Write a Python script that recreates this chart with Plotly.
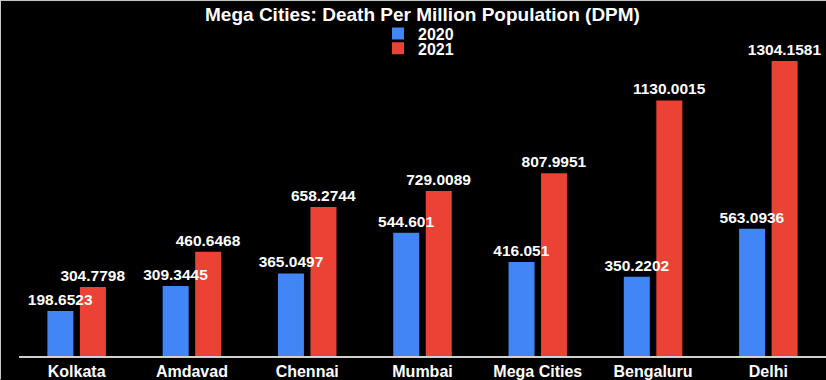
import plotly.graph_objects as go

cities = ["Kolkata", "Amdavad", "Chennai", "Mumbai", "Mega Cities", "Bengaluru", "Delhi"]
dpm_2020 = [198.6523, 309.3445, 365.0497, 544.601, 416.051, 350.2202, 563.0936]
dpm_2021 = [304.7798, 460.6468, 658.2744, 729.0089, 807.9951, 1130.0015, 1304.1581]

FONT = "Liberation Sans, Arial, Helvetica, sans-serif"
W, H = 826, 380
ML, MR, MT, MB = 19, 0, 20, 23.5
PW, PH = W - ML - MR, H - MT - MB
PX_PER_UNIT = 0.2265


def px_to_paper_x(px):
    return (px - ML) / PW


def px_to_paper_y(py):
    return (H - MB - py) / PH


txtfont = dict(color="white", size=15.5, family=FONT, weight="bold")

fig = go.Figure()
fig.add_trace(go.Bar(
    name="2020", x=cities, y=dpm_2020, marker=dict(color="#4285F4", line=dict(width=0)),
    offsetgroup="a", legend="legend",
))
fig.add_trace(go.Bar(
    name="2021", x=cities, y=dpm_2021, marker=dict(color="#EA4335", line=dict(width=0)),
    text=[str(v) for v in dpm_2021], textposition="outside", cliponaxis=False,
    constraintext="none", offsetgroup="b", legend="legend2", textfont=txtfont,
))
# 2020 value labels drawn on top of the 2021 bars
fig.add_trace(go.Bar(
    name="2020 labels", x=cities, y=dpm_2020,
    marker=dict(color="rgba(0,0,0,0)", line=dict(width=0)),
    text=[str(v) for v in dpm_2020], textposition="outside", cliponaxis=False,
    constraintext="none", offsetgroup="a", showlegend=False, hoverinfo="skip",
    textfont=txtfont,
))

leg_common = dict(xanchor="left", yanchor="middle",
                  bgcolor="rgba(0,0,0,0)", borderwidth=0,
                  font=dict(size=16, color="white", family=FONT, weight="bold"))

border = dict(color="#c8c8c8", width=1)

fig.update_layout(
    template="none",
    width=W, height=H,
    paper_bgcolor="black", plot_bgcolor="black",
    margin=dict(l=ML, r=MR, t=MT, b=MB, autoexpand=False),
    barmode="group", bargap=0.436, bargroupgap=0.2,
    font=dict(family=FONT, color="white"),
    title=dict(text="<b>Mega Cities: Death Per Million Population (DPM)</b>",
               x=0.5, xref="paper", xanchor="center",
               y=1 - 14 / H, yref="container", yanchor="middle",
               font=dict(size=19, color="white", family=FONT)),
    legend=dict(x=px_to_paper_x(378), y=px_to_paper_y(33.5), **leg_common),
    legend2=dict(x=px_to_paper_x(378), y=px_to_paper_y(48.5), **leg_common),
    xaxis=dict(showline=True, linecolor="#d0d0d0", linewidth=2, showgrid=False,
               ticks="", zeroline=False,
               tickfont=dict(size=16, color="white", family=FONT, weight="bold")),
    yaxis=dict(range=[0, PH / PX_PER_UNIT], visible=False, showgrid=False, zeroline=False),
    shapes=[
        dict(type="line", xref="paper", yref="paper",
             x0=px_to_paper_x(0.5), x1=px_to_paper_x(0.5),
             y0=px_to_paper_y(H), y1=px_to_paper_y(0), line=border),
        dict(type="line", xref="paper", yref="paper",
             x0=px_to_paper_x(0), x1=px_to_paper_x(W),
             y0=px_to_paper_y(0.5), y1=px_to_paper_y(0.5), line=border),
    ],
    showlegend=True,
)

fig.write_html("out.html", config={"displayModeBar": False},
               post_script="document.body.style.margin='0';document.body.style.background='black';")
